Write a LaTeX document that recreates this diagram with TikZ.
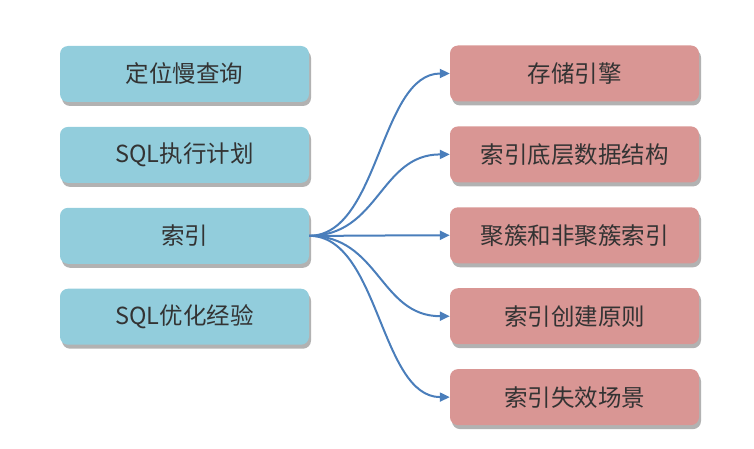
\documentclass[tikz,border=0pt]{standalone}
\usepackage{fontspec}
\newfontfamily\cjk{Noto Sans CJK SC}
\usetikzlibrary{arrows.meta,positioning,shadows}
\definecolor{TopicBlue}{HTML}{92CDDC}
\definecolor{TopicRed}{HTML}{D99694}
\definecolor{LinkBlue}{HTML}{4A7EBB}
\definecolor{TextGray}{HTML}{333333}
\tikzset{
  topic/.style={fill=TopicBlue, rounded corners=8pt, minimum width=249pt, minimum height=56pt,
                inner sep=0pt, text=TextGray, font=\cjk\fontsize{23.5}{28}\selectfont,
                drop shadow={shadow xshift=2pt, shadow yshift=-4pt, fill=black, opacity=0.3}},
  subtopic/.style={topic, fill=TopicRed},
  linkarr/.style={-{Triangle[length=10pt,width=9pt]}, line width=2pt, LinkBlue}
}
\begin{document}
\begin{tikzpicture}[x=1pt, y=1pt, node distance=24.5pt]
\useasboundingbox (0,0) rectangle (754,-449);
% left column
\node[topic] (slow) at (184.5,-74) {定位慢查询};
\node[topic, below=of slow] (plan) {SQL执行计划};
\node[topic, below=of plan] (idx) {索引};
\node[topic, below=of idx] (tune) {SQL优化经验};
% right column
\node[subtopic] (engine) at (574.5,-73.5) {存储引擎};
\node[subtopic, below=of engine] (struct) {索引底层数据结构};
\node[subtopic, below=of struct] (cluster) {聚簇和非聚簇索引};
\node[subtopic, below=of cluster] (rule) {索引创建原则};
\node[subtopic, below=of rule] (fail) {索引失效场景};
% links
\foreach \t in {engine,struct,cluster,rule,fail}
  \draw[linkarr] (idx.east) .. controls +(70,0) and +(-70,0) .. (\t.west);
\end{tikzpicture}
\end{document}
